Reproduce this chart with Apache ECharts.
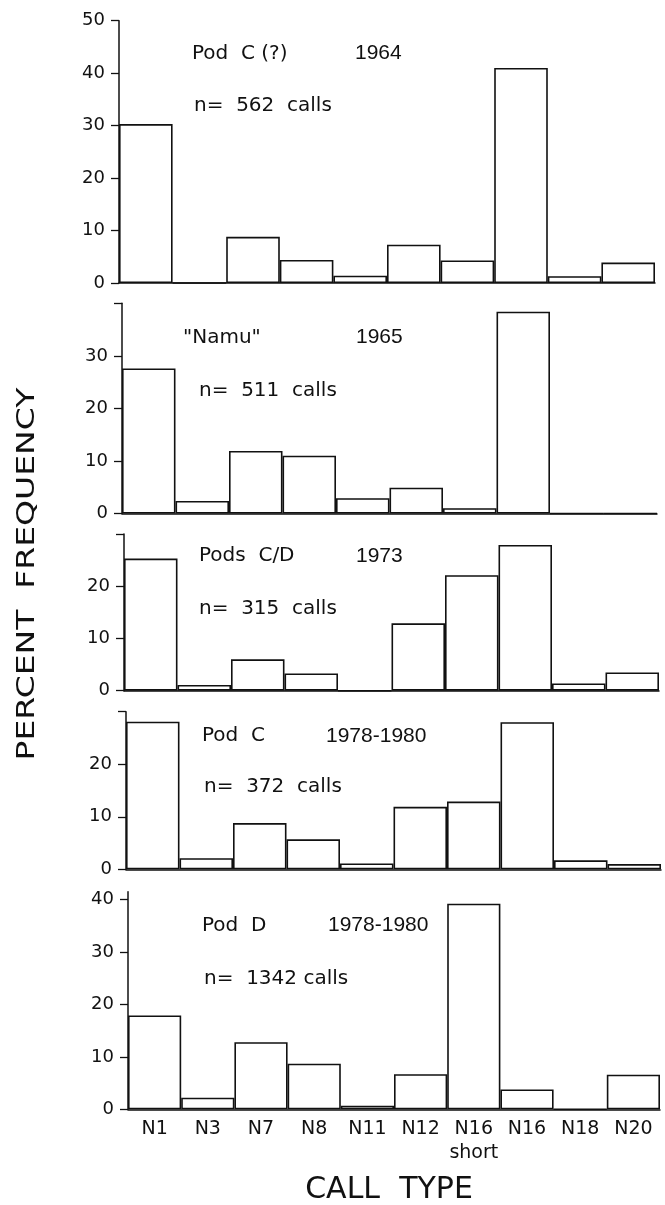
<!DOCTYPE html>
<html>
<head>
<meta charset="utf-8">
<style>
html,body{margin:0;padding:0;background:#fff;}
#chart{width:665px;height:1205px;}
</style>
<script src="https://cdn.jsdelivr.net/npm/echarts@6/dist/echarts.min.js"></script>
</head>
<body>
<div id="chart"></div>
<script>
// ---- data ----
var categories = ['N1', 'N3', 'N7', 'N8', 'N11', 'N12', 'N16\nshort', 'N16', 'N18', 'N20'];
var podC1964   = [30.3, 0, 8.8, 4.4, 1.4, 7.3, 4.3, 41.0, 1.3, 3.9];
var namu1965   = [27.6, 2.4, 11.9, 11.0, 2.9, 4.9, 1.0, 38.4, 0, 0];
var podsCD1973 = [25.3, 1.1, 6.0, 3.3, 0, 12.9, 22.1, 27.9, 1.4, 3.5];
var podC7880   = [28.1, 2.1, 8.8, 5.7, 1.1, 11.9, 12.9, 28.0, 1.7, 1.0];
var podD7880   = [17.9, 2.2, 12.8, 8.7, 0.7, 6.7, 39.2, 3.8, 0, 6.6];
var panelTitles = ['Pod  C (?)', '"Namu"', 'Pods  C/D', 'Pod  C', 'Pod  D'];
var panelYears  = ['1964', '1965', '1973', '1978-1980', '1978-1980'];
var panelCounts = ['n=  562  calls', 'n=  511  calls', 'n=  315  calls', 'n=  372  calls', 'n=  1342 calls'];
var yMax        = [50, 40, 30, 30, 41.5];
var yLabelVals  = [[0,10,20,30,40,50], [0,10,20,30], [0,10,20], [0,10,20], [0,10,20,30,40]];
var yTickVals   = [[0,10,20,30,40,50], [0,10,20,30,40], [0,10,20,30], [0,10,20,30], [0,10,20,30,40]];
var xTitle = 'CALL  TYPE';
var yTitle = 'PERCENT  FREQUENCY';

var seriesData = [podC1964, namu1965, podsCD1973, podC7880, podD7880];

// ---- layout ----
var grids = [
  {left: 119, width: 536, top: 20.7, height: 262.3},
  {left: 122, width: 535, top: 303.3, height: 210.2},
  {left: 124, width: 535, top: 534, height: 156.7},
  {left: 126, width: 535, top: 711.7, height: 157.6},
  {left: 128, width: 532, top: 891.7, height: 217.6}
];
var titlePos = [
  {tx: 192, ty: 53.5, yx: 355, cx: 194, cy: 106},
  {tx: 183, ty: 337.5, yx: 356, cx: 199, cy: 390.5},
  {tx: 199, ty: 556, yx: 356, cx: 199, cy: 609},
  {tx: 202, ty: 736, yx: 326, cx: 204, cy: 787},
  {tx: 202, ty: 925.5, yx: 328, cx: 204, cy: 979}
];

var INK = '#111';
var chart = echarts.init(document.getElementById('chart'), null, {renderer: 'canvas'});

var xAxes = [], yAxes = [], series = [], graphic = [];
for (var i = 0; i < 5; i++) {
  xAxes.push({
    type: 'category', gridIndex: i, data: categories, boundaryGap: true,
    axisLine: {show: true, lineStyle: {color: INK, width: 1.5}},
    axisTick: {show: false},
    axisLabel: {show: i === 4, color: INK, fontFamily: 'DejaVu Sans', fontSize: 19,
                margin: 8, lineHeight: 24, interval: 0}
  });
  yAxes.push({
    type: 'value', gridIndex: i, min: 0, max: yMax[i],
    splitLine: {show: false},
    axisLine: {show: true, lineStyle: {color: INK, width: 1.5}},
    axisTick: {show: true, length: 8, lineStyle: {color: INK, width: 1.3}, customValues: yTickVals[i]},
    axisLabel: {show: true, color: INK, fontFamily: 'DejaVu Sans', fontSize: 18, margin: 14,
                customValues: yLabelVals[i]}
  });
  series.push({
    type: 'bar', xAxisIndex: i, yAxisIndex: i, data: seriesData[i],
    barCategoryGap: '0%', barGap: '0%', silent: true, animation: false,
    itemStyle: {color: '#fff', borderColor: INK, borderWidth: 1.6}
  });
  var p = titlePos[i];
  graphic.push({type: 'text', x: p.tx, y: p.ty, silent: true,
    style: {text: panelTitles[i], fill: INK, font: '20px "DejaVu Sans"', align: 'left', verticalAlign: 'middle'}});
  graphic.push({type: 'text', x: p.yx, y: p.ty, silent: true,
    style: {text: panelYears[i], fill: INK, font: '21px "Liberation Sans"', align: 'left', verticalAlign: 'middle'}});
  graphic.push({type: 'text', x: p.cx, y: p.cy, silent: true,
    style: {text: panelCounts[i], fill: INK, font: '20px "DejaVu Sans"', align: 'left', verticalAlign: 'middle'}});
}
graphic.push({type: 'text', x: 389, y: 1190, silent: true,
  style: {text: xTitle, fill: INK, font: '30px "DejaVu Sans"', align: 'center', verticalAlign: 'middle'}});
graphic.push({type: 'text', x: 27, y: 574, rotation: Math.PI / 2, scaleX: 1.32, silent: true,
  style: {text: yTitle, fill: INK, font: '25px "DejaVu Sans"', align: 'center', verticalAlign: 'middle'}});

chart.setOption({
  backgroundColor: '#fff',
  animation: false,
  grid: grids,
  xAxis: xAxes,
  yAxis: yAxes,
  series: series,
  graphic: graphic
});
</script>
</body>
</html>
